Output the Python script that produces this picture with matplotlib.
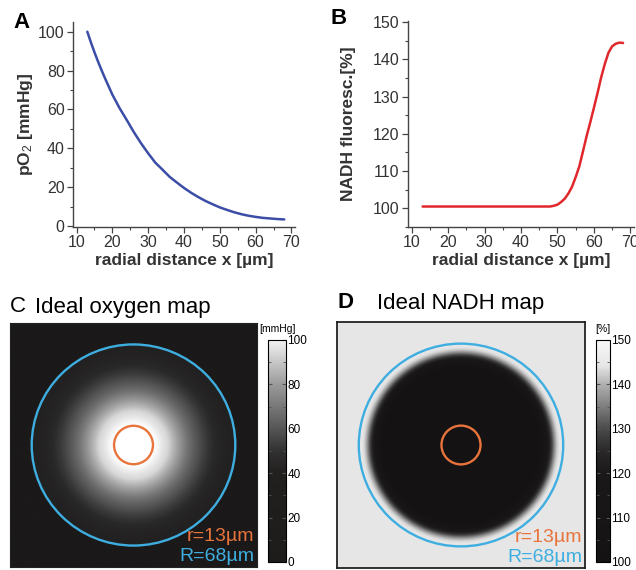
import numpy as np
import matplotlib
matplotlib.use("Agg")
import matplotlib.pyplot as plt
from matplotlib.colors import LinearSegmentedColormap, Normalize
from matplotlib.patches import Circle
from matplotlib.cm import ScalarMappable
from matplotlib.ticker import MultipleLocator

plt.rcParams["font.family"] = ["Liberation Sans", "DejaVu Sans"]
plt.rcParams["mathtext.fontset"] = "custom"
plt.rcParams["mathtext.rm"] = "Liberation Sans"
plt.rcParams["mathtext.it"] = "Liberation Sans"
plt.rcParams["mathtext.bf"] = "Liberation Sans:bold"

po2_x = [13, 14, 15, 16, 17, 18, 20, 22, 24, 26, 28, 30, 32, 34, 36, 38, 40,
         42, 44, 46, 48, 50, 52, 54, 56, 58, 60, 62, 64, 66, 68]
po2_y = [100, 94.5, 89.4, 84.6, 80.1, 75.8, 67.6, 60.7, 54.6, 48.3, 42.6, 37.4,
         32.6, 29.0, 25.3, 22.4, 19.6, 17.1, 14.9, 12.9, 11.2, 9.6, 8.3, 7.1,
         6.1, 5.3, 4.7, 4.2, 3.9, 3.6, 3.4]

nadh_x = [13, 46, 48, 49, 50, 51, 52, 53, 54, 55, 56, 57, 58, 59, 60, 61, 62,
          63, 64, 65, 66, 67, 68]
nadh_y = [100.5, 100.5, 100.5, 100.7, 101.0, 101.7, 102.6, 104.0, 105.8, 108.4,
          111.3, 115.3, 119.4, 123.1, 127.0, 131.0, 135.2, 138.8, 141.8, 143.5,
          144.2, 144.5, 144.4]

r_vessel = 13   # µm
R_tissue = 68   # µm
half_width = 82.5  # µm shown around the vessel

blue_line = "#3b4da6"
red_line = "#e0282c"
orange = "#e8743c"
cyan = "#3eaee0"

fig = plt.figure(figsize=(6.36, 5.70), dpi=100)

# ---- A ----
axA = fig.add_axes([73 / 636, 1 - 227 / 570, 222 / 636, 205 / 570])
axA.plot(po2_x, po2_y, color=blue_line, lw=1.8, solid_capstyle="round")
axA.set_xlim(9, 71)
axA.set_ylim(-0.5, 105)
axA.xaxis.set_major_locator(MultipleLocator(10))
axA.xaxis.set_minor_locator(MultipleLocator(5))
axA.yaxis.set_major_locator(MultipleLocator(20))
axA.yaxis.set_minor_locator(MultipleLocator(10))
axA.set_xlabel("radial distance x [µm]", fontsize=12.5, fontweight="bold", color="#333333", labelpad=2)
axA.set_ylabel(r"pO$_2$ [mmHg]", fontsize=12.5, fontweight="bold", color="#333333", labelpad=2)

# ---- B ----
axB = fig.add_axes([408 / 636, 1 - 227 / 570, 226 / 636, 206 / 570])
axB.plot(nadh_x, nadh_y, color=red_line, lw=1.8, solid_capstyle="round")
axB.set_xlim(9, 71)
axB.set_ylim(95, 150.3)
axB.xaxis.set_major_locator(MultipleLocator(10))
axB.xaxis.set_minor_locator(MultipleLocator(5))
axB.yaxis.set_major_locator(MultipleLocator(10))
axB.yaxis.set_minor_locator(MultipleLocator(5))
axB.set_xlabel("radial distance x [µm]", fontsize=12.5, fontweight="bold", color="#333333", labelpad=2)
axB.set_ylabel("NADH fluoresc.[%]", fontsize=12.5, fontweight="bold", color="#333333", labelpad=12)

for ax in (axA, axB):
    for s in ("top", "right"):
        ax.spines[s].set_visible(False)
    for s in ("left", "bottom"):
        ax.spines[s].set_color("#444444")
        ax.spines[s].set_linewidth(1.0)
    ax.tick_params(which="major", length=4, width=0.9, color="#444444",
                   labelsize=11.5, labelcolor="#333333", pad=2)
    ax.tick_params(which="minor", length=2.5, width=0.8, color="#444444")

fig.text(22 / 636, 1 - 22 / 570, "A", fontsize=16, fontweight="bold", ha="center", va="center")
fig.text(339 / 636, 1 - 18 / 570, "B", fontsize=16, fontweight="bold", ha="center", va="center")

# ---- maps built from the radial profiles ----
grid = np.linspace(-half_width, half_width, 500)
gx, gy = np.meshgrid(grid, grid)
rr = np.hypot(gx, gy)
oxy_map = np.interp(rr, po2_x, po2_y, left=100, right=0)
nadh_map = np.interp(rr, nadh_x, nadh_y, left=nadh_y[0], right=nadh_y[-1])

oxy_img_cmap = LinearSegmentedColormap.from_list(
    "oxy_img", [(0, "#1b1919"), (0.07, "#2a2929"), (0.15, "#505050"),
                (0.33, "#909090"), (0.58, "#d8d8d8"), (0.85, "#f7f7f7"), (1, "#ffffff")])
oxy_bar_cmap = LinearSegmentedColormap.from_list(
    "oxy_bar", [(0, "#1e1b1b"), (0.4, "#221f1f"), (0.5, "#323131"),
                (0.6, "#555555"), (0.8, "#9a9a9a"), (1, "#f2f2f2")])
nadh_cmap = LinearSegmentedColormap.from_list(
    "nadh", [(0, "#141212"), (0.4, "#1a1818"), (0.5, "#2a2828"), (0.6, "#4a4a4a"),
             (0.8, "#b0b0b0"), (0.886, "#e6e6e6"), (1, "#f8f8f8")])

ext = [-half_width, half_width, -half_width, half_width]

# ---- C ----
axC = fig.add_axes([10 / 636, 3 / 570, 247 / 636, 244 / 570])
axC.imshow(oxy_map, cmap=oxy_img_cmap, vmin=0, vmax=100, extent=ext,
           origin="lower", aspect="auto", interpolation="bilinear")
axC.set_xticks([])
axC.set_yticks([])
for s in axC.spines.values():
    s.set_color("#222222")

# ---- D ----
axD = fig.add_axes([337 / 636, 2 / 570, 248 / 636, 246 / 570])
axD.imshow(nadh_map, cmap=nadh_cmap, vmin=100, vmax=150, extent=ext,
           origin="lower", aspect="auto", interpolation="bilinear")
axD.set_xticks([])
axD.set_yticks([])
for s in axD.spines.values():
    s.set_color("#222222")
    s.set_linewidth(1.3)

for ax in (axC, axD):
    ax.add_patch(Circle((0, 0), R_tissue, fill=False, ec=cyan, lw=1.7))
    ax.add_patch(Circle((0, 0), r_vessel, fill=False, ec=orange, lw=1.7))
    ax.text(0.99, 0.09, f"r={r_vessel}µm", color=orange, fontsize=14,
            ha="right", va="bottom", transform=ax.transAxes)
    ax.text(0.99, 0.01, f"R={R_tissue}µm", color=cyan, fontsize=14,
            ha="right", va="bottom", transform=ax.transAxes)

fig.text(10 / 636, 1 - 307 / 570, "C", fontsize=16, ha="left", va="center")
fig.text(35 / 636, 1 - 307 / 570, "Ideal oxygen map", fontsize=16, ha="left", va="center")
fig.text(337 / 636, 1 - 303 / 570, "D", fontsize=16, fontweight="bold", ha="left", va="center")
fig.text(377 / 636, 1 - 303 / 570, "Ideal NADH map", fontsize=16, ha="left", va="center")

# ---- colour bars ----
caxC = fig.add_axes([268 / 636, 8 / 570, 18 / 636, 222 / 570])
cbC = fig.colorbar(ScalarMappable(Normalize(0, 100), oxy_bar_cmap), cax=caxC)
cbC.set_ticks([0, 20, 40, 60, 80, 100])
caxC.yaxis.set_minor_locator(MultipleLocator(10))

caxD = fig.add_axes([596 / 636, 8 / 570, 14 / 636, 222 / 570])
cbD = fig.colorbar(ScalarMappable(Normalize(100, 150), nadh_cmap), cax=caxD)
cbD.set_ticks([100, 110, 120, 130, 140, 150])
caxD.yaxis.set_minor_locator(MultipleLocator(5))

for cb in (cbC, cbD):
    cb.ax.tick_params(which="both", direction="in", left=True, right=True,
                      labelsize=8.5, pad=1, color="#555555")
    cb.ax.tick_params(which="major", length=3)
    cb.ax.tick_params(which="minor", length=2)
    cb.outline.set_linewidth(0.8)

fig.text(277 / 636, 1 - 329 / 570, "[mmHg]", fontsize=7.5, ha="center", va="center")
fig.text(603 / 636, 1 - 329 / 570, "[%]", fontsize=7.5, ha="center", va="center")

fig.savefig("out.png", dpi=100)
